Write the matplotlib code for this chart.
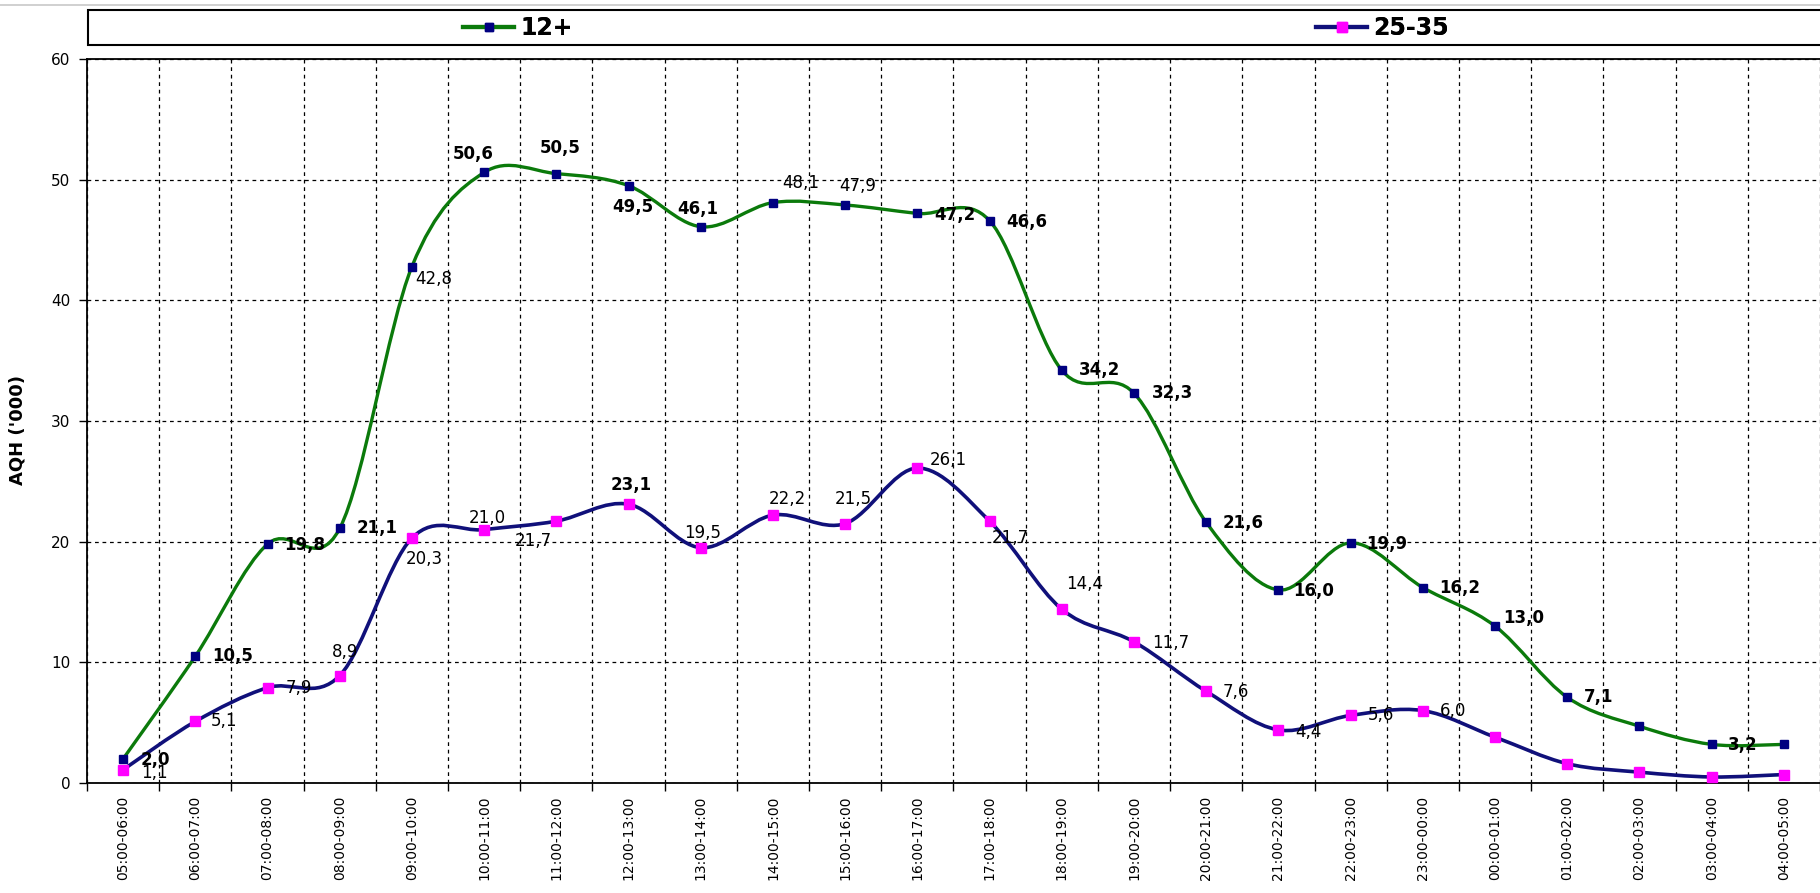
"""AQH by hour — 12+ vs 25-35, smoothed lines with data labels."""

import matplotlib

matplotlib.use("Agg")
import matplotlib.pyplot as plt
import numpy as np
from matplotlib.lines import Line2D
from matplotlib.patches import PathPatch, Rectangle
from matplotlib.path import Path

hours = [
    "05:00-06:00", "06:00-07:00", "07:00-08:00", "08:00-09:00", "09:00-10:00",
    "10:00-11:00", "11:00-12:00", "12:00-13:00", "13:00-14:00", "14:00-15:00",
    "15:00-16:00", "16:00-17:00", "17:00-18:00", "18:00-19:00", "19:00-20:00",
    "20:00-21:00", "21:00-22:00", "22:00-23:00", "23:00-00:00", "00:00-01:00",
    "01:00-02:00", "02:00-03:00", "03:00-04:00", "04:00-05:00",
]
aqh_12plus = [2.0, 10.5, 19.8, 21.1, 42.8, 50.6, 50.5, 49.5, 46.1, 48.1, 47.9, 47.2,
              46.6, 34.2, 32.3, 21.6, 16.0, 19.9, 16.2, 13.0, 7.1, 4.7, 3.2, 3.2]
aqh_25_35 = [1.1, 5.1, 7.9, 8.9, 20.3, 21.0, 21.7, 23.1, 19.5, 22.2, 21.5, 26.1,
             21.7, 14.4, 11.7, 7.6, 4.4, 5.6, 6.0, 3.8, 1.6, 0.9, 0.5, 0.7]
series_names = ["12+", "25-35"]

# label placement: (dx, dy) in pixels (dy down), bold flag; None = no label
lab_12 = [(32, 1, 1), (37, 0, 1), (37, 1, 1), (37, 0, 1), (22, 12, 0), (-11, -18, 1),
          (4, -26, 1), (4, 21, 1), (-3, -18, 1), (28, -20, 0), (13, -19, 0), (37, 2, 1),
          (37, 1, 1), (38, 0, 1), (38, 0, 1), (37, 1, 1), (35, 1, 1), (36, 1, 1),
          (37, 0, 1), (29, -8, 1), (31, 0, 1), None, (31, 1, 1), None]
lab_25 = [(31, 3, 0), (29, 0, 0), (31, 0, 0), (5, -24, 0), (12, 21, 0), (3, -12, 0),
          (-23, 20, 0), (3, -19, 1), (2, -15, 0), (14, -16, 0), (8, -25, 0), (31, -8, 0),
          (21, 17, 0), (23, -25, 0), (37, 1, 0), (30, 1, 0), (30, 2, 0), (30, 0, 0),
          (30, 0, 0), None, None, None, None, None]

GREEN = "#0b7a0b"
NAVY = "#10107a"
MARK_NAVY = "#000080"
MAGENTA = "#ff00ff"

plt.rcParams["font.family"] = ["DejaVu Sans"]

W, H = 1820, 893
fig = plt.figure(figsize=(W / 100, H / 100), dpi=100)
ax = fig.add_axes([87 / W, 1 - 783 / H, (W - 87) / W, (783 - 59) / H])


def smooth_path(ys):
    """Excel-style smoothed line as cubic Bezier segments through the points."""
    pts = np.column_stack([np.arange(len(ys)), np.asarray(ys, dtype=float)])
    verts = [pts[0]]
    codes = [Path.MOVETO]
    n = len(pts)
    for i in range(n - 1):
        p0 = pts[max(i - 1, 0)]
        p1, p2 = pts[i], pts[i + 1]
        p3 = pts[min(i + 2, n - 1)]
        verts += [p1 + (p2 - p0) / 6, p2 - (p3 - p1) / 6, p2]
        codes += [Path.CURVE4] * 3
    return Path(verts, codes)


x = np.arange(len(hours))
ax.add_patch(PathPatch(smooth_path(aqh_12plus), fc="none", ec=GREEN, lw=2.4, zorder=3,
                       capstyle="round"))
ax.plot(x, aqh_12plus, ls="none", marker="s", ms=5.5, mfc=MARK_NAVY, mec=MARK_NAVY, zorder=4)
ax.add_patch(PathPatch(smooth_path(aqh_25_35), fc="none", ec=NAVY, lw=2.6, zorder=3,
                       capstyle="round"))
ax.plot(x, aqh_25_35, ls="none", marker="s", ms=7.5, mfc=MAGENTA, mec=MAGENTA, zorder=4)

for vals, labs in ((aqh_12plus, lab_12), (aqh_25_35, lab_25)):
    for i, (v, lab) in enumerate(zip(vals, labs)):
        if lab is None:
            continue
        dx, dy, bold = lab
        ax.annotate(f"{v:.1f}".replace(".", ","), (i, v), xytext=(dx, -dy),
                    textcoords="offset pixels", ha="center", va="center",
                    fontsize=12, fontweight="bold" if bold else "normal",
                    color="black", zorder=5)

ax.set_xlim(-0.5, len(hours) - 0.5)
ax.set_ylim(0, 60)
ax.set_yticks(np.arange(0, 61, 10))
ax.set_xticks(x)
ax.set_xticklabels(hours, rotation=90, fontsize=10)
ax.set_xticks(np.arange(-0.5, len(hours)), minor=True)
ax.tick_params(axis="x", which="major", length=0, pad=9)
ax.tick_params(axis="x", which="minor", length=6, width=1, direction="out")
ax.tick_params(axis="y", length=6, width=1, pad=6, labelsize=11)
for lbl in ax.get_xticklabels():
    lbl.set_va("top")

ax.grid(True, axis="x", which="minor", color="black", ls=(0, (3, 3)), lw=0.9)
ax.grid(True, axis="y", which="major", color="black", ls=(0, (3, 3)), lw=0.9)
ax.grid(False, axis="x", which="major")
ax.set_axisbelow(True)
for side in ("left", "bottom", "top"):
    ax.spines[side].set_linewidth(1.3)
ax.spines["right"].set_visible(False)

fig.text(18 / W, 1 - 430 / H, "AQH ('000)", rotation=90, ha="center", va="center",
         fontsize=13, fontweight="bold")

# legend strip across the top
fig.add_artist(Line2D([0, 1], [1 - 5 / H, 1 - 5 / H], transform=fig.transFigure,
                      color="#c8c8c8", lw=1.2))
fig.add_artist(Rectangle((88 / W, 1 - 45 / H), 1.0, 35 / H, transform=fig.transFigure,
                         fc="white", ec="black", lw=1.5))
handles = [
    Line2D([], [], color=GREEN, lw=3, marker="s", ms=5.5, mfc=MARK_NAVY, mec=MARK_NAVY),
    Line2D([], [], color=NAVY, lw=3, marker="s", ms=7.5, mfc=MAGENTA, mec=MAGENTA),
]
for h, name, x0 in zip(handles, series_names, (463, 1316)):
    leg = fig.legend([h], [name], loc="center left", bbox_to_anchor=(x0 / W, 1 - 28 / H),
                     frameon=False, borderpad=0, borderaxespad=0, handlelength=2.16,
                     handletextpad=0.25, numpoints=1,
                     prop={"size": 17, "weight": "bold"})
    fig.add_artist(leg)

fig.savefig("out.png", dpi=100)
plt.close(fig)
